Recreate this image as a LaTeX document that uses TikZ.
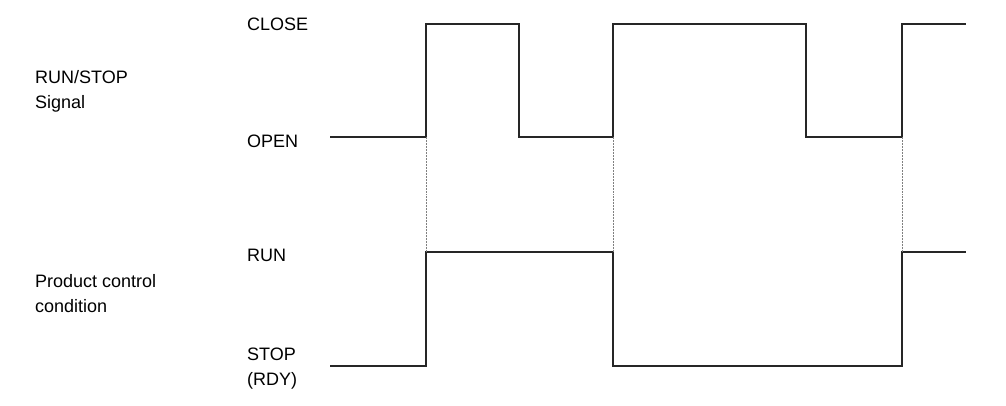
\documentclass[tikz,border=0pt]{standalone}
\usepackage{fontspec}
\setmainfont{Liberation Sans}
\begin{document}
\begin{tikzpicture}[x=1pt,y=-1pt,
  sig/.style={line width=1.3pt,black!85},
  guide/.style={densely dotted,gray,line width=0.5pt},
  lbl/.style={anchor=west,font=\fontsize{18}{25}\selectfont,inner sep=0pt,align=left}]
\useasboundingbox (0,0) rectangle (1006,406);
\node[lbl] (close) at (247,24) {CLOSE};
\node[lbl] (open) at (247,141) {OPEN};
\node[lbl,anchor=west] (rs) at (35,91) {RUN/STOP\\Signal};
\node[lbl] (run) at (247,255) {RUN};
\node[lbl] (pc) at (35,294) {Product control\\condition};
\node[lbl] (stop) at (247,369) {STOP\\(RDY)};
\coordinate (a) at (330,137);
\coordinate (b) at (330,366);
\draw[sig] (a) -- (426,137) -- (426,24) -- (519,24) -- (519,137) -- (613,137) -- (613,24) -- (806,24) -- (806,137) -- (902,137) -- (902,24) -- (966,24);
\draw[sig] (b) -- (426,366) -- (426,252) -- (613,252) -- (613,366) -- (902,366) -- (902,252) -- (966,252);
\draw[guide] (426,137) -- (426,252);
\draw[guide] (613,137) -- (613,252);
\draw[guide] (902,137) -- (902,252);
\end{tikzpicture}
\end{document}
